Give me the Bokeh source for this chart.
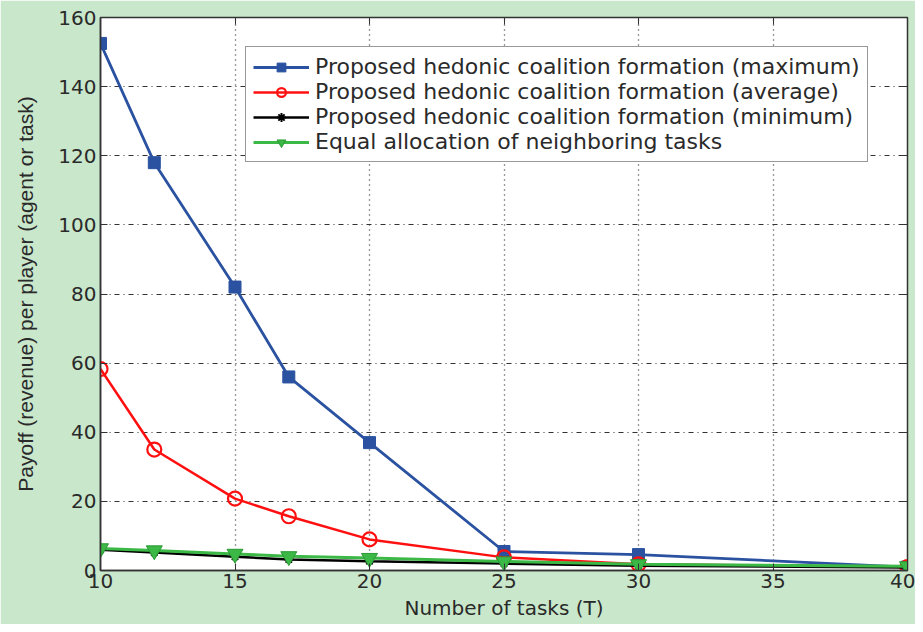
from bokeh.plotting import figure
from bokeh.embed import file_html
from bokeh.resources import INLINE
from bokeh.models import LinearAxis, FixedTicker, Legend, LegendItem, Range1d

tasks = [10, 12, 15, 17, 20, 25, 30, 40]
max_payoff = [152.5, 118, 82, 56, 37, 5.5, 4.6, 1.0]
avg_payoff = [58.3, 35, 20.8, 15.7, 9, 3.8, 1.8, 1.0]
min_payoff = [6.0, 5.2, 4.0, 3.2, 2.7, 2.0, 1.4, 0.9]
equal_payoff = [6.4, 5.8, 4.8, 4.1, 3.6, 2.6, 1.8, 1.2]

x_ticks = [10, 15, 20, 25, 30, 35, 40]
y_ticks = [0, 20, 40, 60, 80, 100, 120, 140, 160]

labels = [
    "Proposed hedonic coalition formation (maximum)",
    "Proposed hedonic coalition formation (average)",
    "Proposed hedonic coalition formation (minimum)",
    "Equal allocation of neighboring tasks",
]

BG = "#c9e7cb"
FONT = "DejaVu Sans"
TXT = "#2a2a2a"

p = figure(width=915, height=624, output_backend="svg", toolbar_location=None,
           x_range=Range1d(10, 40), y_range=Range1d(0, 160),
           min_border_left=100, min_border_right=8, min_border_top=17, min_border_bottom=54,
           border_fill_color=BG, background_fill_color="white",
           outline_line_color="#333333", outline_line_width=1.5)

p.xaxis.ticker = FixedTicker(ticks=x_ticks)
p.yaxis.ticker = FixedTicker(ticks=y_ticks)
for ax in (p.xaxis[0], p.yaxis[0]):
    ax.major_tick_in = 7
    ax.major_tick_out = 0
    ax.minor_tick_line_color = None
    ax.axis_line_color = "#333333"
    ax.axis_line_width = 1.5
    ax.major_tick_line_color = "#333333"
    ax.major_label_text_font = FONT
    ax.major_label_text_font_size = "20px"
    ax.major_label_text_color = TXT
    ax.axis_label_text_font_style = "normal"
    ax.axis_label_text_color = TXT
p.xaxis.axis_label = "Number of tasks (T)"
p.xaxis.axis_label_text_font = FONT
p.xaxis.axis_label_text_font_size = "20px"
p.xaxis.axis_label_standoff = 5
p.xaxis.major_label_standoff = 3
p.yaxis.axis_label = "Payoff (revenue) per player (agent or task)"
p.yaxis.axis_label_text_font = "Liberation Sans"
p.yaxis.axis_label_text_font_size = "21px"
p.yaxis.axis_label_standoff = 18
p.yaxis.major_label_standoff = 4

# box-style ticks on top and right
top = LinearAxis(ticker=FixedTicker(ticks=x_ticks), major_label_text_font_size="0px",
                 major_tick_in=7, major_tick_out=0, minor_tick_line_color=None,
                 axis_line_color="#333333", major_tick_line_color="#333333")
right = LinearAxis(ticker=FixedTicker(ticks=y_ticks), major_label_text_font_size="0px",
                   major_tick_in=7, major_tick_out=0, minor_tick_line_color=None,
                   axis_line_color="#333333", major_tick_line_color="#333333")
p.add_layout(top, "above")
p.add_layout(right, "right")
top.major_label_standoff = 0
right.major_label_standoff = 0

p.xgrid.grid_line_color = "#333333"
p.xgrid.grid_line_dash = "1 4"
p.xgrid.grid_line_width = 1.3
p.ygrid.grid_line_color = "#333333"
p.ygrid.grid_line_dash = "5 4 1 4"
p.ygrid.grid_line_width = 1.2

BLUE = "#2a52a0"
RED = "#ff1010"
GREEN = "#3cb846"

l1 = p.line(tasks, max_payoff, line_color=BLUE, line_width=2.8)
m1 = p.scatter(tasks, max_payoff, marker="square", size=12, fill_color=BLUE, line_color=BLUE)
l2 = p.line(tasks, avg_payoff, line_color=RED, line_width=2.5)
m2 = p.scatter(tasks, avg_payoff, marker="circle", size=14, fill_color=None, line_color=RED, line_width=2.2)
l3 = p.line(tasks, min_payoff, line_color="black", line_width=2.5)
m3 = p.scatter(tasks, min_payoff, marker="asterisk", size=9, line_color="black", line_width=2)
l4 = p.line(tasks, equal_payoff, line_color=GREEN, line_width=3)
m4 = p.scatter(tasks, equal_payoff, marker="inverted_triangle", size=16, fill_color=GREEN,
               line_color="#2a9a35", line_width=1)

legend = Legend(items=[
    LegendItem(label=labels[0], renderers=[l1, m1]),
    LegendItem(label=labels[1], renderers=[l2, m2]),
    LegendItem(label=labels[2], renderers=[l3, m3]),
    LegendItem(label=labels[3], renderers=[l4, m4]),
], location=(145, 408))
legend.label_text_font = FONT
legend.label_text_font_size = "22px"
legend.label_text_color = TXT
legend.glyph_width = 56
legend.glyph_height = 22
legend.label_height = 22
legend.label_standoff = 6
legend.spacing = 0
legend.padding = 7
legend.margin = 0
legend.border_line_color = "#333333"
legend.border_line_width = 1.5
legend.background_fill_alpha = 1.0
p.add_layout(legend, "center")

open("out.html", "w").write(file_html(p, INLINE))
